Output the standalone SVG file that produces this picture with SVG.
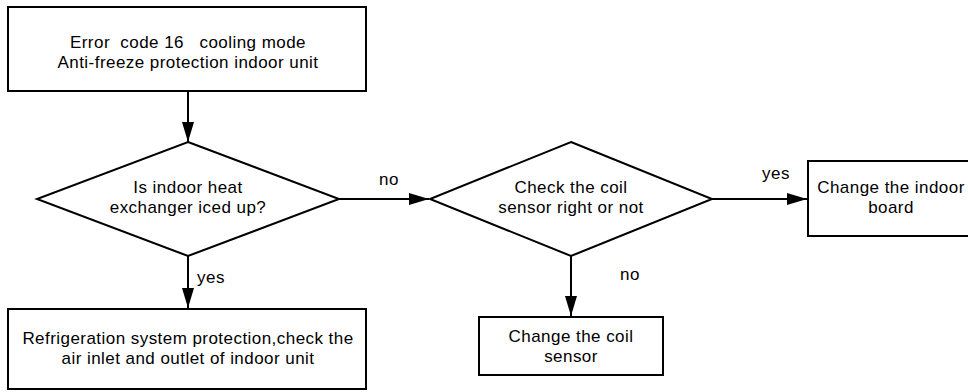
<svg xmlns="http://www.w3.org/2000/svg" width="968" height="392" viewBox="0 0 968 392">
<style>
.n{fill:#fff;stroke:#000;stroke-width:2}
.t{font-family:"Liberation Sans",Arial,sans-serif;font-size:17px;letter-spacing:0.45px;fill:#000;text-anchor:middle;white-space:pre}
.c{stroke:#000;stroke-width:2;fill:none}
</style>
<defs>
<marker id="a" viewBox="0 0 20 12" refX="20" refY="6" markerWidth="20" markerHeight="12" markerUnits="userSpaceOnUse" orient="auto" preserveAspectRatio="none">
<path d="M0,0L20,6L0,12z" fill="#000"/>
</marker>
</defs>
<rect width="968" height="392" fill="#fff"/>
<g id="connectors">
<line class="c" x1="188" y1="91" x2="188" y2="142" marker-end="url(#a)"/>
<line class="c" x1="339" y1="199" x2="429" y2="199" marker-end="url(#a)"/>
<line class="c" x1="712" y1="199" x2="807" y2="199" marker-end="url(#a)"/>
<line class="c" x1="188" y1="256" x2="188" y2="308" marker-end="url(#a)"/>
<line class="c" x1="571" y1="256" x2="571" y2="316" marker-end="url(#a)"/>
<text class="t" x="389" y="185">no</text>
<text class="t" x="776" y="179">yes</text>
<text class="t" x="211" y="283">yes</text>
<text class="t" x="630" y="280">no</text>
</g>
<g id="start">
<rect class="n" x="8" y="7" width="358" height="84"/>
<text class="t" x="188" y="48">Error  code 16   cooling mode</text>
<text class="t" x="188" y="68">Anti-freeze protection indoor unit</text>
</g>
<g id="iced">
<polygon class="n" points="188,142 339,199 188,256 37,199"/>
<text class="t" x="188" y="193">Is indoor heat</text>
<text class="t" x="188" y="213">exchanger iced up?</text>
</g>
<g id="check">
<polygon class="n" points="571,142 712,199 571,256 430,199"/>
<text class="t" x="571" y="193">Check the coil</text>
<text class="t" x="571" y="213">sensor right or not</text>
</g>
<g id="board">
<rect class="n" x="808" y="161" width="166" height="75"/>
<text class="t" x="891" y="193">Change the indoor</text>
<text class="t" x="891" y="213">board</text>
</g>
<g id="refrig">
<rect class="n" x="8" y="309" width="358" height="80"/>
<text class="t" x="188" y="344">Refrigeration system protection,check the</text>
<text class="t" x="188" y="364">air inlet and outlet of indoor unit</text>
</g>
<g id="coil">
<rect class="n" x="479" y="317" width="184" height="58"/>
<text class="t" x="571" y="342">Change the coil</text>
<text class="t" x="571" y="362">sensor</text>
</g>
</svg>
